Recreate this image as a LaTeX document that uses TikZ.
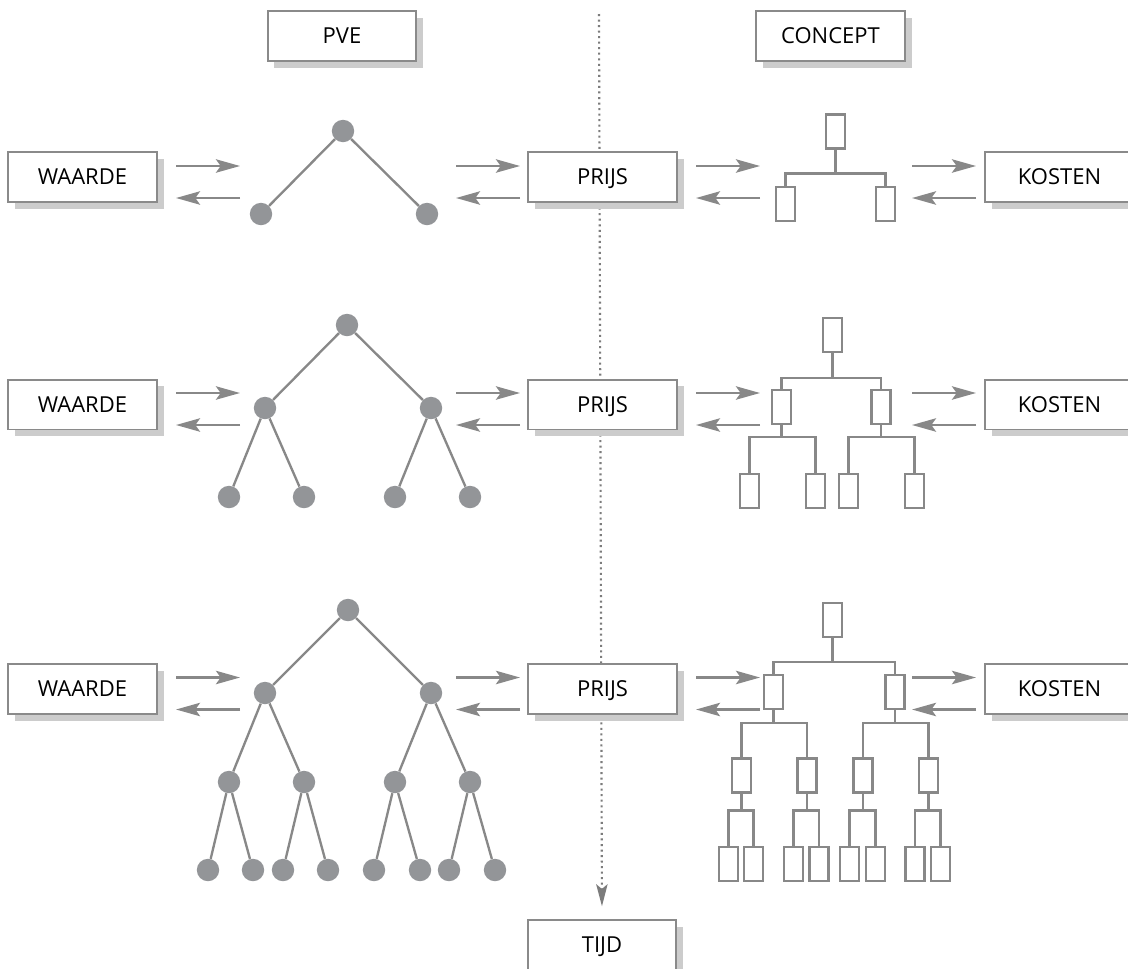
\documentclass[tikz,border=0pt]{standalone}
\usepackage{fontspec}
\setmainfont{Open Sans}
\usetikzlibrary{arrows.meta,shadows}
\definecolor{lijngrijs}{HTML}{888888}
\definecolor{bolgrijs}{HTML}{939598}
\definecolor{randgrijs}{HTML}{8A8A8A}
\definecolor{stipgrijs}{HTML}{7C7C7C}
\definecolor{schaduw}{HTML}{CCCCCC}

\begin{document}
\begin{tikzpicture}[x=0.75pt,y=-0.75pt,
  kader/.style={draw=randgrijs,line width=1.3pt,fill=white,inner sep=0pt,
                minimum width=111.5pt,minimum height=37.3pt,
                text height=11.8pt,text depth=0pt,
                font=\fontsize{16.5}{19}\selectfont,
                drop shadow={shadow xshift=5pt,shadow yshift=-5pt,fill=schaduw,opacity=1}},
  bol/.style={circle,fill=bolgrijs,inner sep=0pt,minimum size=16.8pt},
  blok/.style={draw=lijngrijs,line width=1.7pt,fill=white,inner sep=0pt,
               minimum width=14.25pt,minimum height=25.5pt},
  tak/.style={draw=lijngrijs,line width=1.75pt},
  pijl/.style={draw=lijngrijs,line width=1.9pt,-{Stealth[length=18pt,width=10pt,inset=3.5pt]}},
  stip/.style={draw=stipgrijs,line width=1.6pt,dash pattern=on 1.5pt off 2.65pt,
               -{Stealth[length=16.5pt,width=8.5pt,inset=3.5pt]},shorten >=9.75pt}]
\fill[white] (0,0) rectangle (1128,968);
\useasboundingbox (0,0) rectangle (1128,968);

% tijdas
\node[kader] (tijd) at (602,945) {TIJD};
\coordinate (tijdtop) at (599,14);
\draw[stip] (tijdtop) -- (tijd.north);

% koppen
\node[kader] (pve) at (342,36) {PVE};
\node[kader] (concept) at (830.5,36) {CONCEPT};

% kaders per rij
\foreach \r/\y in {1/177,2/404.5,3/689}{
  \node[kader] (waarde\r) at (82.5,\y) {WAARDE};
  \node[kader] (prijs\r) at (602.5,\y) {PRIJS};
  \node[kader] (kosten\r) at (1059.5,\y) {KOSTEN};
}

% pijlen heen en terug
\foreach \y in {182,409,693.5}
  \foreach \xa/\xb in {176/240,456/520,696/760,912/976}{
    \draw[pijl] (\xa,\y-16) -- (\xb,\y-16);
    \draw[pijl] (\xb,\y+16) -- (\xa,\y+16);
  }

% PVE rij 1
\node[bol] (p1) at (343,131) {};
\node[bol] (p1a) at (261,214) {};
\node[bol] (p1b) at (427,214) {};
\draw[tak] (p1) -- (p1a) (p1) -- (p1b);

% PVE rij 2
\node[bol] (p2) at (347,325) {};
\node[bol] (p2a) at (265,408) {};
\node[bol] (p2b) at (431,408) {};
\foreach \n/\x in {1/229,2/304,3/395,4/470}
  \node[bol] (p2-\n) at (\x,497) {};
\draw[tak] (p2) -- (p2a) (p2) -- (p2b)
  (p2a) -- (p2-1) (p2a) -- (p2-2) (p2b) -- (p2-3) (p2b) -- (p2-4);

% PVE rij 3
\node[bol] (p3) at (348,610) {};
\node[bol] (p3a) at (265,693) {};
\node[bol] (p3b) at (431,693) {};
\foreach \n/\x in {1/229,2/304,3/395,4/470}
  \node[bol] (p3-\n) at (\x,782) {};
\foreach \n/\x in {1/208,2/253,3/283,4/328,5/374,6/420,7/449,8/495}
  \node[bol] (q3-\n) at (\x,870) {};
\draw[tak] (p3) -- (p3a) (p3) -- (p3b)
  (p3a) -- (p3-1) (p3a) -- (p3-2) (p3b) -- (p3-3) (p3b) -- (p3-4);
\foreach \m/\a/\b in {1/1/2,2/3/4,3/5/6,4/7/8}
  \draw[tak] (p3-\m) -- (q3-\a) (p3-\m) -- (q3-\b);

% concept rij 1
\node[blok] (k1) at (835.5,131.5) {};
\node[blok] (k1a) at (785.5,204) {};
\node[blok] (k1b) at (885.5,204) {};
\draw[tak] (k1.south) -- ++(0,24) -| (k1a.north) (k1.south) ++(0,24) -| (k1b.north);

% concept rij 2
\node[blok] (k2) at (832.5,335) {};
\node[blok] (k2a) at (781.5,407) {};
\node[blok] (k2b) at (881,407) {};
\foreach \n/\x in {1/749.5,2/815.5,3/848.5,4/914.5}
  \node[blok] (k2-\n) at (\x,491) {};
\draw[tak] (k2.south) -- ++(0,25) -| (k2a.north) (k2.south) ++(0,25) -| (k2b.north);
\draw[tak] (k2a.south) -- ++(0,12) -| (k2-1.north) (k2a.south) ++(0,12) -| (k2-2.north);
\draw[tak] (k2b.south) -- ++(0,12) -| (k2-3.north) (k2b.south) ++(0,12) -| (k2-4.north);

% concept rij 3
\node[blok] (k3) at (832.5,620) {};
\node[blok] (k3a) at (773.5,692) {};
\node[blok] (k3b) at (895,692) {};
\foreach \n/\x in {1/741.5,2/807,3/863,4/928.5}
  \node[blok] (k3-\n) at (\x,775.5) {};
\foreach \n/\x in {1/728.5,2/753.5,3/793.5,4/819,5/849.5,6/875.5,7/915,8/940.5}
  \node[blok] (l3-\n) at (\x,864) {};
\draw[tak] (k3.south) -- ++(0,24) -| (k3a.north) (k3.south) ++(0,24) -| (k3b.north);
\draw[tak] (k3a.south) -- ++(0,13) -| (k3-1.north) (k3a.south) ++(0,13) -| (k3-2.north);
\draw[tak] (k3b.south) -- ++(0,13) -| (k3-3.north) (k3b.south) ++(0,13) -| (k3-4.north);
\foreach \m/\a/\b in {1/1/2,2/3/4,3/5/6,4/7/8}
  \draw[tak] (k3-\m.south) -- ++(0,17) -| (l3-\a.north) (k3-\m.south) ++(0,17) -| (l3-\b.north);
\end{tikzpicture}
\end{document}
